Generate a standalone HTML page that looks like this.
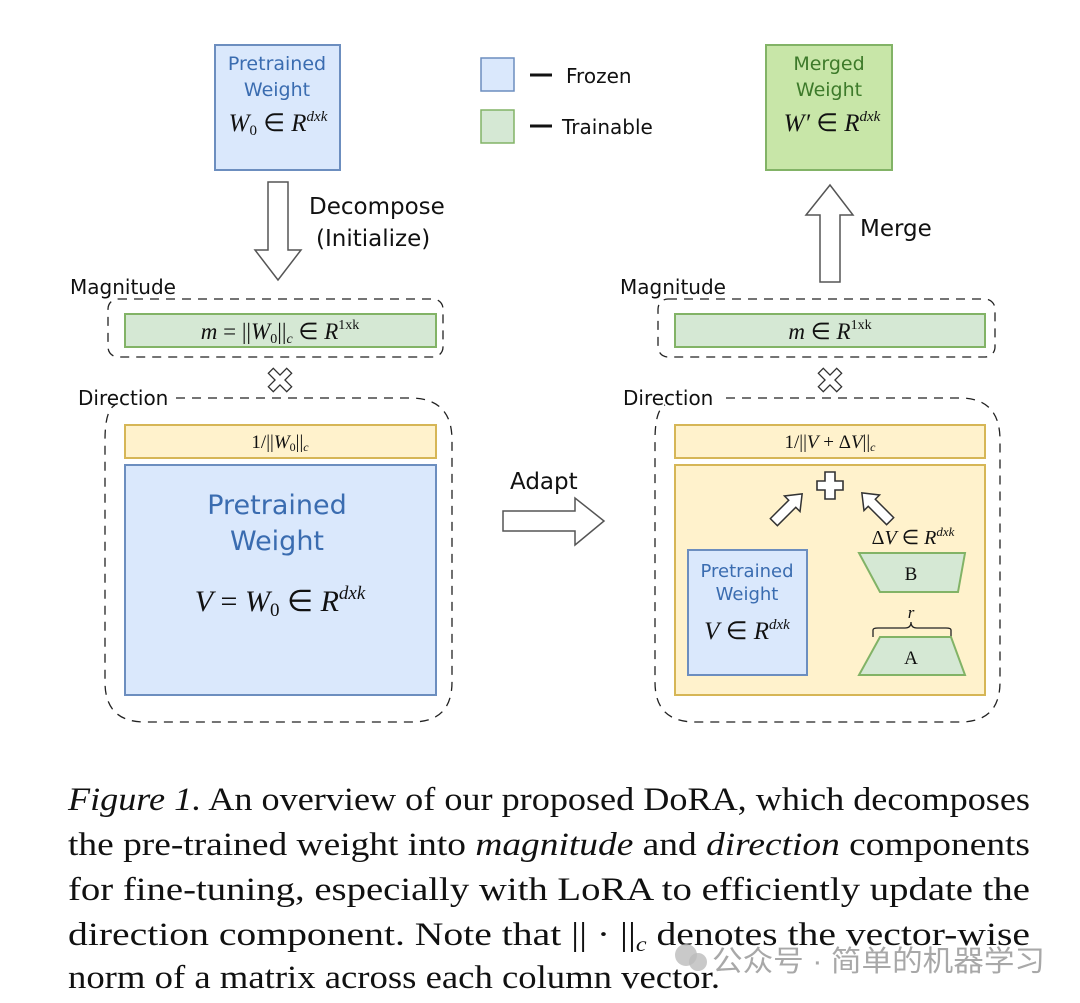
<!DOCTYPE html>
<html><head><meta charset="utf-8"><style>
html,body{margin:0;padding:0;background:#fff;}
svg{display:block;}
.s{font-family:"DejaVu Sans","Liberation Sans",sans-serif;}
.m{font-family:"Liberation Serif",serif;font-style:italic;}
.c{font-family:"Liberation Serif",serif;font-size:33px;fill:#111;}
</style></head><body>
<svg width="1080" height="1003" viewBox="0 0 1080 1003" xmlns="http://www.w3.org/2000/svg">
<defs>
<path id="x" transform="rotate(45)" d="M-3.5,-13 H3.5 V-3.5 H13 V3.5 H3.5 V13 H-3.5 V3.5 H-13 V-3.5 H-3.5 Z"/>
</defs>
<!-- top left pretrained -->
<rect x="215" y="45" width="125" height="125" fill="#dae8fc" stroke="#6c8ebf" stroke-width="2"/>
<text class="s" x="277" y="70" font-size="19" fill="#3a6cb0" text-anchor="middle">Pretrained</text>
<text class="s" x="277" y="96" font-size="19" fill="#3a6cb0" text-anchor="middle">Weight</text>
<text class="m" x="278" y="131" font-size="25" text-anchor="middle" fill="#111">W<tspan font-size="15" dy="4" font-style="normal">0</tspan><tspan dy="-4" font-style="normal"> ∈ </tspan>R<tspan font-size="15" dy="-10">dxk</tspan></text>
<!-- legend -->
<rect x="481" y="58" width="33" height="33" fill="#dae8fc" stroke="#6c8ebf" stroke-width="1.5"/>
<rect x="481" y="110" width="33" height="33" fill="#d5e8d4" stroke="#82b366" stroke-width="1.5"/>
<line x1="530" y1="75" x2="552" y2="75" stroke="#111" stroke-width="3"/>
<line x1="530" y1="126" x2="552" y2="126" stroke="#111" stroke-width="3"/>
<text class="s" x="566" y="83" font-size="20" fill="#111">Frozen</text>
<text class="s" x="562" y="134" font-size="20" fill="#111">Trainable</text>
<!-- merged -->
<rect x="766" y="45" width="126" height="125" fill="#c8e6a8" stroke="#82b366" stroke-width="2"/>
<text class="s" x="829" y="70" font-size="19" fill="#3d7a2a" text-anchor="middle">Merged</text>
<text class="s" x="829" y="96" font-size="19" fill="#3d7a2a" text-anchor="middle">Weight</text>
<text class="m" x="832" y="131" font-size="25" text-anchor="middle" fill="#111">W′<tspan font-style="normal"> ∈ </tspan>R<tspan font-size="15" dy="-10">dxk</tspan></text>
<!-- decompose arrow -->
<path d="M268,182 H288 V250 H301 L278,280 L255,250 H268 Z" fill="#fff" stroke="#555" stroke-width="1.5"/>
<text class="s" x="309" y="214" font-size="23" fill="#111">Decompose</text>
<text class="s" x="316" y="246" font-size="23" fill="#111">(Initialize)</text>
<!-- merge arrow -->
<path d="M820,282 H840 V215 H853 L830,185 L806,215 H820 Z" fill="#fff" stroke="#555" stroke-width="1.5"/>
<text class="s" x="860" y="236" font-size="23" fill="#111">Merge</text>
<!-- adapt arrow -->
<path d="M503,511 H575 V498 L604,521 L575,545 V531 H503 Z" fill="#fff" stroke="#555" stroke-width="1.5"/>
<text class="s" x="510" y="489" font-size="23" fill="#111">Adapt</text>
<!-- LEFT magnitude -->
<text class="s" x="70" y="294" font-size="20" fill="#111">Magnitude</text>
<rect x="108" y="299" width="335" height="58" rx="10" fill="none" stroke="#222" stroke-width="1.3" stroke-dasharray="9,7"/>
<rect x="125" y="314" width="311" height="33" fill="#d5e8d4" stroke="#82b366" stroke-width="2"/>
<text class="m" x="280" y="339" font-size="23" text-anchor="middle" fill="#111">m<tspan font-style="normal"> = ||</tspan>W<tspan font-size="14" dy="4" font-style="normal">0</tspan><tspan dy="-4" font-style="normal">||</tspan><tspan font-size="14" dy="4">c</tspan><tspan dy="-4" font-style="normal"> ∈ </tspan>R<tspan font-size="14" dy="-10" font-style="normal">1xk</tspan></text>
<g transform="translate(280,380)"><use href="#x" fill="#fff" stroke="#333" stroke-width="1.3"/></g>
<!-- LEFT direction -->
<text class="s" x="78" y="405" font-size="20" fill="#111">Direction</text>
<path d="M176,398 H410 Q452,398 452,440 V682 Q452,722 412,722 H145 Q105,722 105,682 V440 Q105,410 115,405" fill="none" stroke="#222" stroke-width="1.3" stroke-dasharray="9,7"/>
<rect x="125" y="425" width="311" height="33" fill="#fff2cc" stroke="#d6b656" stroke-width="2"/>
<text class="m" x="280" y="448" font-size="19" text-anchor="middle" fill="#111"><tspan font-style="normal">1/||</tspan>W<tspan font-size="12" dy="3" font-style="normal">0</tspan><tspan dy="-3" font-style="normal">||</tspan><tspan font-size="12" dy="3">c</tspan></text>
<rect x="125" y="465" width="311" height="230" fill="#dae8fc" stroke="#6c8ebf" stroke-width="2"/>
<text class="s" x="277" y="514" font-size="27" fill="#3a6cb0" text-anchor="middle">Pretrained</text>
<text class="s" x="277" y="550" font-size="27" fill="#3a6cb0" text-anchor="middle">Weight</text>
<text class="m" x="280" y="611" font-size="30" text-anchor="middle" fill="#111">V<tspan font-style="normal"> = </tspan>W<tspan font-size="19" dy="5" font-style="normal">0</tspan><tspan dy="-5" font-style="normal"> ∈ </tspan>R<tspan font-size="19" dy="-12">dxk</tspan></text>
<!-- RIGHT magnitude -->
<text class="s" x="620" y="294" font-size="20" fill="#111">Magnitude</text>
<rect x="658" y="299" width="337" height="58" rx="10" fill="none" stroke="#222" stroke-width="1.3" stroke-dasharray="9,7"/>
<rect x="675" y="314" width="310" height="33" fill="#d5e8d4" stroke="#82b366" stroke-width="2"/>
<text class="m" x="830" y="339" font-size="23" text-anchor="middle" fill="#111">m<tspan font-style="normal"> ∈ </tspan>R<tspan font-size="14" dy="-10" font-style="normal">1xk</tspan></text>
<g transform="translate(830,380)"><use href="#x" fill="#fff" stroke="#333" stroke-width="1.3"/></g>
<!-- RIGHT direction -->
<text class="s" x="623" y="405" font-size="20" fill="#111">Direction</text>
<path d="M726,398 H960 Q1000,398 1000,440 V682 Q1000,722 960,722 H695 Q655,722 655,682 V440 Q655,410 665,405" fill="none" stroke="#222" stroke-width="1.3" stroke-dasharray="9,7"/>
<rect x="675" y="425" width="310" height="33" fill="#fff2cc" stroke="#d6b656" stroke-width="2"/>
<text class="m" x="830" y="448" font-size="19" text-anchor="middle" fill="#111"><tspan font-style="normal">1/||</tspan>V<tspan font-style="normal"> + Δ</tspan>V<tspan font-style="normal">||</tspan><tspan font-size="12" dy="3">c</tspan></text>
<rect x="675" y="465" width="310" height="230" fill="#fff2cc" stroke="#d6b656" stroke-width="2"/>
<!-- plus -->
<path d="M825,472 H835 V481 H843 V490 H835 V499 H825 V490 H817 V481 H825 Z" fill="#fff" stroke="#333" stroke-width="1.6"/>
<!-- diagonal arrows -->
<g transform="translate(788,508) rotate(-45)"><path d="M-20,-5 H6 V-11 L20,0 L6,11 V5 H-20 Z" fill="#fff" stroke="#333" stroke-width="1.5"/></g>
<g transform="translate(876,507) rotate(-135)"><path d="M-20,-5 H6 V-11 L20,0 L6,11 V5 H-20 Z" fill="#fff" stroke="#333" stroke-width="1.5"/></g>
<rect x="688" y="550" width="119" height="125" fill="#dae8fc" stroke="#6c8ebf" stroke-width="2"/>
<text class="s" x="747" y="577" font-size="18" fill="#3a6cb0" text-anchor="middle">Pretrained</text>
<text class="s" x="747" y="600" font-size="18" fill="#3a6cb0" text-anchor="middle">Weight</text>
<text class="m" x="747" y="639" font-size="25" text-anchor="middle" fill="#111">V<tspan font-style="normal"> ∈ </tspan>R<tspan font-size="15" dy="-10">dxk</tspan></text>
<text class="m" x="913" y="544" font-size="20" text-anchor="middle" fill="#111"><tspan font-style="normal">Δ</tspan>V<tspan font-style="normal"> ∈ </tspan>R<tspan font-size="13" dy="-8">dxk</tspan></text>
<path d="M859,553 H965 L958,592 H880 Z" fill="#d5e8d4" stroke="#82b366" stroke-width="2"/>
<text x="911" y="580" font-size="19" text-anchor="middle" font-family="Liberation Serif,serif" fill="#111">B</text>
<path d="M873,637 V630 Q873,628 878,628 H905 Q911,628 911,622 Q911,628 917,628 H946 Q951,628 951,630 V637" fill="none" stroke="#222" stroke-width="1.3"/>
<text class="m" x="911" y="618" font-size="17" text-anchor="middle" fill="#111">r</text>
<path d="M880,637 H951 L965,675 H859 Z" fill="#d5e8d4" stroke="#82b366" stroke-width="2"/>
<text x="911" y="664" font-size="19" text-anchor="middle" font-family="Liberation Serif,serif" fill="#111">A</text>
<!-- caption -->
<text class="c" x="68" y="810" textLength="962" lengthAdjust="spacingAndGlyphs"><tspan font-style="italic">Figure 1.</tspan> An overview of our proposed DoRA, which decomposes</text>
<text class="c" x="68" y="855" textLength="962" lengthAdjust="spacingAndGlyphs">the pre-trained weight into <tspan font-style="italic">magnitude</tspan> and <tspan font-style="italic">direction</tspan> components</text>
<text class="c" x="68" y="900" textLength="962" lengthAdjust="spacingAndGlyphs">for fine-tuning, especially with LoRA to efficiently update the</text>
<text class="c" x="68" y="945" textLength="962" lengthAdjust="spacingAndGlyphs">direction component.  Note that || · ||<tspan font-style="italic" font-size="20" dy="6">c</tspan><tspan dy="-6"> denotes the vector-wise</tspan></text>
<text class="c" x="68" y="988" textLength="652" lengthAdjust="spacingAndGlyphs">norm of a matrix across each column vector.</text>
<!-- watermark -->
<circle cx="686" cy="955" r="11" fill="#bbb" opacity="0.8"/>
<circle cx="698" cy="962" r="9" fill="#bbb" opacity="0.8"/>
<text x="712" y="971" font-size="29" fill="#999" opacity="0.85" textLength="333" lengthAdjust="spacingAndGlyphs" font-family="Liberation Sans,Noto Sans CJK SC,sans-serif">公众号 · 简单的机器学习</text>
</svg>
</body></html>
